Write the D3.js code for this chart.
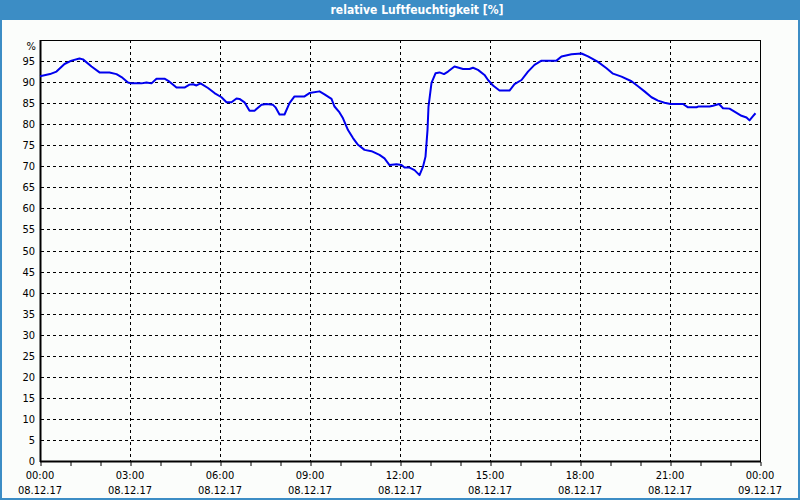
<!DOCTYPE html>
<html><head><meta charset="utf-8">
<script src="https://cdn.jsdelivr.net/npm/d3@7"></script>
<style>
html,body{margin:0;padding:0;background:#fbfdfb;}
svg{display:block;}
text{font-family:"DejaVu Sans Condensed","Liberation Sans",sans-serif;}
</style></head><body>
<svg id="c" width="800" height="500"></svg>
<script>
const title = "relative Luftfeuchtigkeit [%]";
const unitLabel = "%";
// minutes since 08.12.17 00:00
const minutes = [0,20,33,49,63,79,86,103,119,139,153,163,176,183,203,213,223,233,249,259,273,289,299,306,313,321,336,349,363,373,383,393,399,409,419,429,443,453,466,471,479,489,499,509,529,539,559,569,583,589,599,606,616,626,636,649,663,679,689,699,713,723,729,739,749,759,766,771,775,777,783,791,799,808,816,829,846,859,866,876,889,896,906,919,939,949,963,976,989,1003,1033,1043,1063,1083,1096,1116,1133,1146,1163,1183,1196,1209,1223,1236,1249,1261,1286,1296,1313,1316,1339,1346,1358,1366,1379,1389,1403,1413,1419,1426,1431];
const humidity = [91.4,91.9,92.5,94.3,95.1,95.6,95.4,93.7,92.3,92.3,91.9,91.2,89.9,89.7,89.7,89.9,89.7,90.8,90.8,90.1,88.7,88.7,89.4,89.5,89.2,89.7,88.6,87.4,86.4,85.2,85.2,86.1,86.0,85.2,83.2,83.2,84.6,84.8,84.6,84.0,82.3,82.3,85.0,86.6,86.6,87.4,87.8,87.1,86.0,84.2,82.8,81.4,78.6,76.7,75.1,73.9,73.6,72.7,71.9,70.3,70.5,70.3,69.7,69.7,69.1,67.9,69.9,72.3,78.6,84.2,89.8,92.1,92.3,91.9,92.5,93.7,93.1,93.1,93.4,92.9,91.7,90.5,89.2,88.0,88.0,89.5,90.5,92.5,94.1,95.1,95.1,96.1,96.6,96.8,96.1,94.8,93.3,92.0,91.3,90.2,89.0,87.8,86.4,85.6,85.1,84.8,84.8,84.0,84.0,84.2,84.2,84.4,84.8,83.8,83.7,83.0,82.0,81.6,80.9,81.9,82.6];
const yTicks = [0,5,10,15,20,25,30,35,40,45,50,55,60,65,70,75,80,85,90,95];
const xTickTimes = ["00:00","03:00","06:00","09:00","12:00","15:00","18:00","21:00","00:00"];
const xTickDates = ["08.12.17","08.12.17","08.12.17","08.12.17","08.12.17","08.12.17","08.12.17","08.12.17","09.12.17"];

const W = 800, H = 500;
const m = {left:40, right:40, top:40, bottom:39};
const svg = d3.select("#c");
const t0 = new Date(2017, 11, 8, 0, 0);
const t1 = new Date(2017, 11, 9, 0, 0);
const x = d3.scaleTime().domain([t0, t1]).range([m.left, W - m.right]);
const y = d3.scaleLinear().domain([0, 100]).range([H - m.bottom, m.top]);
const data = minutes.map((mm, i) => ({t: new Date(t0.getTime() + mm * 60000), v: humidity[i]}));

// background and frame
svg.append("rect").attr("x",0).attr("y",0).attr("width",W).attr("height",H).attr("fill","#fbfdfb");
svg.append("rect").attr("x",1).attr("y",1).attr("width",W-2).attr("height",H-2)
  .attr("fill","none").attr("stroke","#3c8dc5").attr("stroke-width",2);
svg.append("rect").attr("x",0).attr("y",0).attr("width",W).attr("height",20).attr("fill","#3c8dc5");
svg.append("text").attr("x",417).attr("y",14).attr("text-anchor","middle")
  .attr("fill","#ffffff").attr("font-weight","bold").attr("font-size","12px").text(title);

// grid
const majorTicks = d3.range(0, 9).map(i => new Date(t0.getTime() + i * 3 * 3600000));
const hourTicks = d3.range(0, 25).map(i => new Date(t0.getTime() + i * 3600000));
const g = svg.append("g").attr("stroke","#000").attr("stroke-width",1).attr("stroke-dasharray","3,3");
yTicks.filter(v => v > 0).forEach(v => {
  g.append("line").attr("x1", x(t0)+1).attr("x2", x(t1)).attr("y1", Math.round(y(v))+0.5).attr("y2", Math.round(y(v))+0.5);
});
majorTicks.slice(1, -1).forEach(t => {
  g.append("line").attr("x1", Math.round(x(t))+0.5).attr("x2", Math.round(x(t))+0.5).attr("y1", y(100)).attr("y2", y(0));
});

// frame lines
svg.append("rect").attr("x", x(t0)+0.5).attr("y", y(100)+0.5).attr("width", x(t1)-x(t0)).attr("height", y(0)-y(100))
  .attr("fill","none").attr("stroke","#000").attr("stroke-width",1);
svg.append("line").attr("x1", x(t0)+0.5).attr("x2", x(t0)+0.5).attr("y1", y(100)).attr("y2", y(0)+1).attr("stroke","#000").attr("stroke-width",2);
svg.append("line").attr("x1", x(t0)).attr("x2", x(t1)+1).attr("y1", y(0)+0.5).attr("y2", y(0)+0.5).attr("stroke","#000").attr("stroke-width",2);

// x axis ticks via d3 axis
const xAxis = d3.axisBottom(x).tickValues(hourTicks).tickSize(4).tickFormat("");
const xa = svg.append("g").attr("transform", `translate(0.5,${y(0)+1})`).call(xAxis);
xa.select(".domain").remove();
xa.selectAll("line").attr("stroke","#000");

// x labels
majorTicks.forEach((t, i) => {
  svg.append("text").attr("x", x(t)).attr("y", 479).attr("text-anchor","middle").attr("font-size","11px").attr("fill","#000").text(xTickTimes[i]);
  svg.append("text").attr("x", x(t)).attr("y", 494).attr("text-anchor","middle").attr("font-size","11px").attr("fill","#000").text(xTickDates[i]);
});

// y labels
const yAxis = d3.axisLeft(y).tickValues(yTicks).tickSize(0).tickPadding(5).tickFormat(d3.format("d"));
const ya = svg.append("g").attr("transform", `translate(${x(t0)},0)`).call(yAxis);
ya.select(".domain").remove();
ya.selectAll("text").attr("font-size","11px").attr("fill","#000").attr("font-family",'"DejaVu Sans Condensed","Liberation Sans",sans-serif');
svg.append("text").attr("x", 36).attr("y", 50).attr("text-anchor","end").attr("font-size","11px").attr("fill","#000").text(unitLabel);

// line
const line = d3.line().x(d => x(d.t)).y(d => y(d.v));
svg.append("path").datum(data).attr("d", line).attr("fill","none").attr("stroke","#0000ee").attr("stroke-width",2).attr("stroke-linejoin","round");
</script>
</body></html>
